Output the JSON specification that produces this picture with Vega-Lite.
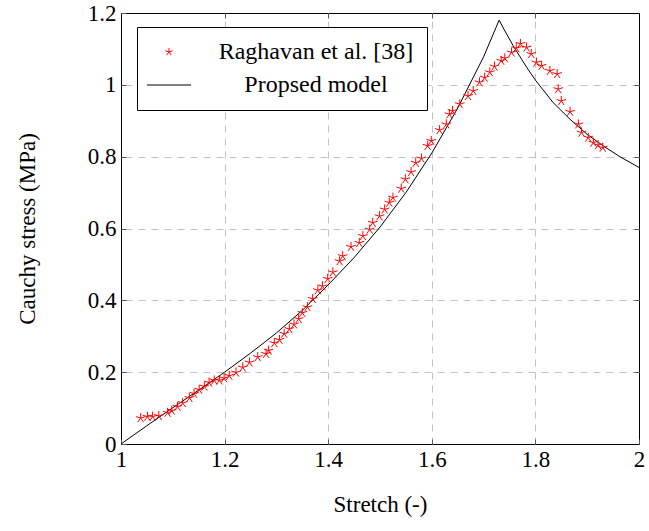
{
  "$schema": "https://vega.github.io/schema/vega-lite/v6.json",
  "width": 518,
  "height": 431,
  "autosize": {"type": "none"},
  "padding": {"left": 121, "top": 13, "right": 10, "bottom": 87},
  "background": "white",
  "config": {
    "font": "Liberation Serif",
    "view": {"stroke": "black", "strokeWidth": 1},
    "axis": {
      "labelFont": "Liberation Serif",
      "labelFontSize": 23,
      "labelColor": "black",
      "labelFlush": false,
      "labelOverlap": false,
      "titleFont": "Liberation Serif",
      "titleFontSize": 23,
      "titleFontWeight": "normal",
      "titleColor": "black",
      "domain": false,
      "gridColor": "#c2c2c2",
      "gridDash": [7, 6],
      "gridWidth": 1,
      "tickColor": "#555555",
      "tickSize": -5,
      "tickWidth": 1
    },
    "legend": {
      "orient": "none",
      "legendX": 16,
      "legendY": 14,
      "strokeColor": "black",
      "strokeWidth": 1,
      "fillColor": "white",
      "padding": 13,
      "rowPadding": 9,
      "labelFont": "Liberation Serif",
      "labelFontSize": 24,
      "labelColor": "black",
      "labelLimit": 0,
      "labelAlign": "center",
      "labelOffset": 135,
      "symbolOffset": 7,
      "symbolSize": 60,
      "symbolStrokeWidth": 1,
      "title": null
    }
  },
  "datasets": {
    "model": [
      {"stretch": 1.0, "stress": 0.0, "series": "Propsed model"},
      {"stretch": 1.05, "stress": 0.051, "series": "Propsed model"},
      {"stretch": 1.1, "stress": 0.101, "series": "Propsed model"},
      {"stretch": 1.15, "stress": 0.15, "series": "Propsed model"},
      {"stretch": 1.2, "stress": 0.2, "series": "Propsed model"},
      {"stretch": 1.25, "stress": 0.253, "series": "Propsed model"},
      {"stretch": 1.3, "stress": 0.309, "series": "Propsed model"},
      {"stretch": 1.35, "stress": 0.372, "series": "Propsed model"},
      {"stretch": 1.4, "stress": 0.443, "series": "Propsed model"},
      {"stretch": 1.45, "stress": 0.519, "series": "Propsed model"},
      {"stretch": 1.5, "stress": 0.604, "series": "Propsed model"},
      {"stretch": 1.55, "stress": 0.7, "series": "Propsed model"},
      {"stretch": 1.6, "stress": 0.81, "series": "Propsed model"},
      {"stretch": 1.65, "stress": 0.935, "series": "Propsed model"},
      {"stretch": 1.7, "stress": 1.078, "series": "Propsed model"},
      {"stretch": 1.73, "stress": 1.18, "series": "Propsed model"},
      {"stretch": 1.74, "stress": 1.153, "series": "Propsed model"},
      {"stretch": 1.757, "stress": 1.109, "series": "Propsed model"},
      {"stretch": 1.783, "stress": 1.049, "series": "Propsed model"},
      {"stretch": 1.8, "stress": 1.013, "series": "Propsed model"},
      {"stretch": 1.834, "stress": 0.951, "series": "Propsed model"},
      {"stretch": 1.867, "stress": 0.904, "series": "Propsed model"},
      {"stretch": 1.9, "stress": 0.862, "series": "Propsed model"},
      {"stretch": 1.931, "stress": 0.83, "series": "Propsed model"},
      {"stretch": 1.963, "stress": 0.8, "series": "Propsed model"},
      {"stretch": 2.0, "stress": 0.77, "series": "Propsed model"}
    ],
    "exp": [
      {"stretch": 1.038, "stress": 0.072, "series": "Raghavan et al. [38]"},
      {"stretch": 1.051, "stress": 0.076, "series": "Raghavan et al. [38]"},
      {"stretch": 1.061, "stress": 0.076, "series": "Raghavan et al. [38]"},
      {"stretch": 1.073, "stress": 0.078, "series": "Raghavan et al. [38]"},
      {"stretch": 1.09, "stress": 0.087, "series": "Raghavan et al. [38]"},
      {"stretch": 1.098, "stress": 0.093, "series": "Raghavan et al. [38]"},
      {"stretch": 1.109, "stress": 0.104, "series": "Raghavan et al. [38]"},
      {"stretch": 1.119, "stress": 0.114, "series": "Raghavan et al. [38]"},
      {"stretch": 1.132, "stress": 0.128, "series": "Raghavan et al. [38]"},
      {"stretch": 1.141, "stress": 0.14, "series": "Raghavan et al. [38]"},
      {"stretch": 1.151, "stress": 0.151, "series": "Raghavan et al. [38]"},
      {"stretch": 1.161, "stress": 0.16, "series": "Raghavan et al. [38]"},
      {"stretch": 1.17, "stress": 0.171, "series": "Raghavan et al. [38]"},
      {"stretch": 1.18, "stress": 0.177, "series": "Raghavan et al. [38]"},
      {"stretch": 1.19, "stress": 0.177, "series": "Raghavan et al. [38]"},
      {"stretch": 1.199, "stress": 0.183, "series": "Raghavan et al. [38]"},
      {"stretch": 1.209, "stress": 0.19, "series": "Raghavan et al. [38]"},
      {"stretch": 1.222, "stress": 0.199, "series": "Raghavan et al. [38]"},
      {"stretch": 1.235, "stress": 0.213, "series": "Raghavan et al. [38]"},
      {"stretch": 1.248, "stress": 0.227, "series": "Raghavan et al. [38]"},
      {"stretch": 1.264, "stress": 0.242, "series": "Raghavan et al. [38]"},
      {"stretch": 1.28, "stress": 0.251, "series": "Raghavan et al. [38]"},
      {"stretch": 1.285, "stress": 0.26, "series": "Raghavan et al. [38]"},
      {"stretch": 1.296, "stress": 0.281, "series": "Raghavan et al. [38]"},
      {"stretch": 1.306, "stress": 0.29, "series": "Raghavan et al. [38]"},
      {"stretch": 1.315, "stress": 0.307, "series": "Raghavan et al. [38]"},
      {"stretch": 1.325, "stress": 0.32, "series": "Raghavan et al. [38]"},
      {"stretch": 1.334, "stress": 0.333, "series": "Raghavan et al. [38]"},
      {"stretch": 1.343, "stress": 0.348, "series": "Raghavan et al. [38]"},
      {"stretch": 1.35, "stress": 0.365, "series": "Raghavan et al. [38]"},
      {"stretch": 1.36, "stress": 0.381, "series": "Raghavan et al. [38]"},
      {"stretch": 1.37, "stress": 0.404, "series": "Raghavan et al. [38]"},
      {"stretch": 1.38, "stress": 0.428, "series": "Raghavan et al. [38]"},
      {"stretch": 1.389, "stress": 0.439, "series": "Raghavan et al. [38]"},
      {"stretch": 1.399, "stress": 0.46, "series": "Raghavan et al. [38]"},
      {"stretch": 1.409, "stress": 0.478, "series": "Raghavan et al. [38]"},
      {"stretch": 1.422, "stress": 0.509, "series": "Raghavan et al. [38]"},
      {"stretch": 1.428, "stress": 0.523, "series": "Raghavan et al. [38]"},
      {"stretch": 1.444, "stress": 0.549, "series": "Raghavan et al. [38]"},
      {"stretch": 1.46, "stress": 0.56, "series": "Raghavan et al. [38]"},
      {"stretch": 1.467, "stress": 0.579, "series": "Raghavan et al. [38]"},
      {"stretch": 1.48, "stress": 0.597, "series": "Raghavan et al. [38]"},
      {"stretch": 1.486, "stress": 0.616, "series": "Raghavan et al. [38]"},
      {"stretch": 1.499, "stress": 0.634, "series": "Raghavan et al. [38]"},
      {"stretch": 1.509, "stress": 0.653, "series": "Raghavan et al. [38]"},
      {"stretch": 1.518, "stress": 0.672, "series": "Raghavan et al. [38]"},
      {"stretch": 1.525, "stress": 0.686, "series": "Raghavan et al. [38]"},
      {"stretch": 1.541, "stress": 0.711, "series": "Raghavan et al. [38]"},
      {"stretch": 1.549, "stress": 0.737, "series": "Raghavan et al. [38]"},
      {"stretch": 1.56, "stress": 0.757, "series": "Raghavan et al. [38]"},
      {"stretch": 1.569, "stress": 0.783, "series": "Raghavan et al. [38]"},
      {"stretch": 1.58, "stress": 0.795, "series": "Raghavan et al. [38]"},
      {"stretch": 1.592, "stress": 0.83, "series": "Raghavan et al. [38]"},
      {"stretch": 1.599, "stress": 0.844, "series": "Raghavan et al. [38]"},
      {"stretch": 1.615, "stress": 0.874, "series": "Raghavan et al. [38]"},
      {"stretch": 1.628, "stress": 0.89, "series": "Raghavan et al. [38]"},
      {"stretch": 1.634, "stress": 0.918, "series": "Raghavan et al. [38]"},
      {"stretch": 1.64, "stress": 0.927, "series": "Raghavan et al. [38]"},
      {"stretch": 1.654, "stress": 0.946, "series": "Raghavan et al. [38]"},
      {"stretch": 1.67, "stress": 0.969, "series": "Raghavan et al. [38]"},
      {"stretch": 1.68, "stress": 0.983, "series": "Raghavan et al. [38]"},
      {"stretch": 1.692, "stress": 1.007, "series": "Raghavan et al. [38]"},
      {"stretch": 1.702, "stress": 1.02, "series": "Raghavan et al. [38]"},
      {"stretch": 1.712, "stress": 1.035, "series": "Raghavan et al. [38]"},
      {"stretch": 1.721, "stress": 1.051, "series": "Raghavan et al. [38]"},
      {"stretch": 1.734, "stress": 1.067, "series": "Raghavan et al. [38]"},
      {"stretch": 1.741, "stress": 1.074, "series": "Raghavan et al. [38]"},
      {"stretch": 1.754, "stress": 1.09, "series": "Raghavan et al. [38]"},
      {"stretch": 1.763, "stress": 1.102, "series": "Raghavan et al. [38]"},
      {"stretch": 1.771, "stress": 1.114, "series": "Raghavan et al. [38]"},
      {"stretch": 1.783, "stress": 1.104, "series": "Raghavan et al. [38]"},
      {"stretch": 1.792, "stress": 1.086, "series": "Raghavan et al. [38]"},
      {"stretch": 1.802, "stress": 1.062, "series": "Raghavan et al. [38]"},
      {"stretch": 1.812, "stress": 1.053, "series": "Raghavan et al. [38]"},
      {"stretch": 1.828, "stress": 1.039, "series": "Raghavan et al. [38]"},
      {"stretch": 1.842, "stress": 1.03, "series": "Raghavan et al. [38]"},
      {"stretch": 1.844, "stress": 0.988, "series": "Raghavan et al. [38]"},
      {"stretch": 1.85, "stress": 0.955, "series": "Raghavan et al. [38]"},
      {"stretch": 1.867, "stress": 0.925, "series": "Raghavan et al. [38]"},
      {"stretch": 1.883, "stress": 0.89, "series": "Raghavan et al. [38]"},
      {"stretch": 1.889, "stress": 0.867, "series": "Raghavan et al. [38]"},
      {"stretch": 1.902, "stress": 0.853, "series": "Raghavan et al. [38]"},
      {"stretch": 1.912, "stress": 0.839, "series": "Raghavan et al. [38]"},
      {"stretch": 1.921, "stress": 0.832, "series": "Raghavan et al. [38]"},
      {"stretch": 1.93, "stress": 0.825, "series": "Raghavan et al. [38]"}
    ]
  },
  "layer": [
    {
      "data": {"name": "model"},
      "mark": {"type": "line", "strokeWidth": 1},
      "encoding": {
        "x": {
          "field": "stretch",
          "type": "quantitative",
          "scale": {"domain": [1, 2], "nice": false, "zero": false},
          "axis": {
            "title": "Stretch (-)",
            "values": [1, 1.2, 1.4, 1.6, 1.8, 2],
            "format": "~f",
            "grid": false,
            "labelPadding": 9,
            "titlePadding": 22
          }
        },
        "y": {
          "field": "stress",
          "type": "quantitative",
          "scale": {"domain": [0, 1.2], "nice": false},
          "axis": {
            "title": "Cauchy stress (MPa)",
            "values": [0, 0.2, 0.4, 0.6, 0.8, 1, 1.2],
            "format": "~f",
            "grid": false,
            "labelPadding": 10,
            "titlePadding": 48
          }
        },
        "color": {
          "field": "series",
          "type": "nominal",
          "scale": {"domain": ["Raghavan et al. [38]", "Propsed model"], "range": ["#ff0000", "#000000"]}
        }
      }
    },
    {
      "data": {"name": "exp"},
      "mark": {"type": "point", "filled": false, "strokeWidth": 1, "size": 100, "opacity": 1},
      "encoding": {
        "x": {
          "field": "stretch",
          "type": "quantitative",
          "axis": {"orient": "top", "labels": false, "title": null, "grid": true, "values": [1.2, 1.4, 1.6, 1.8]}
        },
        "y": {
          "field": "stress",
          "type": "quantitative",
          "axis": {"orient": "right", "labels": false, "title": null, "grid": true, "values": [0.2, 0.4, 0.6, 0.8, 1]}
        },
        "color": {
          "field": "series",
          "type": "nominal",
          "scale": {"domain": ["Raghavan et al. [38]", "Propsed model"], "range": ["#ff0000", "#000000"]}
        },
        "shape": {
          "field": "series",
          "type": "nominal",
          "scale": {
            "domain": ["Raghavan et al. [38]", "Propsed model"],
            "range": ["M0,0L0,-1M0,0L0.951,-0.309M0,0L0.588,0.809M0,0L-0.588,0.809M0,0L-0.951,-0.309", "M-5.7,0L5.7,0"]
          }
        }
      }
    }
  ],
  "resolve": {"axis": {"x": "independent", "y": "independent"}}
}
